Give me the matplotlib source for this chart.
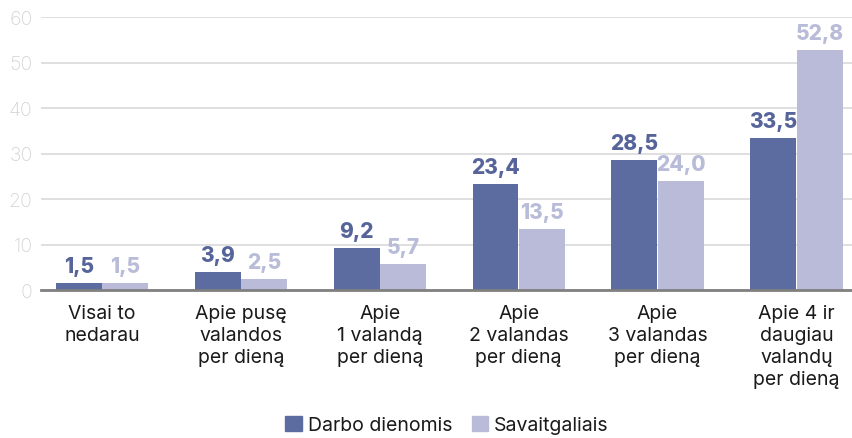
import matplotlib.pyplot as plt
import numpy as np
from matplotlib.patches import Patch

# データ
categories = ['Visai to\nnedarau', 'Apie pusę\nvalandos\nper dieną', 'Apie\n1 valandą\nper dieną',
              'Apie\n2 valandas\nper dieną', 'Apie\n3 valandas\nper dieną', 'Apie 4 ir\ndaugiau\nvalandų\nper dieną']
darbo = [1.5, 3.9, 9.2, 23.4, 28.5, 33.5]
savaitgaliais = [1.5, 2.5, 5.7, 13.5, 24.0, 52.8]
series_names = ['Darbo dienomis', 'Savaitgaliais']
yticks = [0, 10, 20, 30, 40, 50, 60]

dark = '#5d6ca0'
light = '#b9bbd9'

plt.rcParams['font.family'] = ['Inter', 'DejaVu Sans']

fig = plt.figure(figsize=(8.52, 4.39), dpi=100)
ax = fig.add_axes([41 / 852, 148 / 439, 811 / 852, 273 / 439])

x = np.arange(len(categories))
w = 0.33
b1 = ax.bar(x - w / 2 - 0.002, darbo, w, color=dark, zorder=3)
b2 = ax.bar(x + w / 2 + 0.002, savaitgaliais, w, color=light, zorder=3)

# 値ラベル
for bars, vals, col in [(b1, darbo, '#56649a'), (b2, savaitgaliais, '#b9bcd8')]:
    for r, v in zip(bars, vals):
        ax.annotate(f'{v:.1f}'.replace('.', ','), (r.get_x() + r.get_width() / 2, r.get_height()),
                    xytext=(0, 5), textcoords='offset points', ha='center', va='bottom',
                    fontsize=15, fontweight=800, color=col, zorder=4)

ax.set_xlim(-0.44, 5.40)
ax.set_ylim(0, 60)
ax.set_yticks(yticks)
ax.set_yticklabels([str(t) for t in yticks], fontsize=14, color='#d4d4d4', fontweight='light')
ax.set_xticks(x)
ax.set_xticklabels(categories, fontsize=14, color='#1a1a1a', linespacing=1.3)
ax.tick_params(axis='both', length=0)
ax.tick_params(axis='y', pad=6)
ax.tick_params(axis='x', pad=10)

ax.grid(axis='y', color='#dcdcdc', linewidth=1.3, zorder=0)
for s in ['top', 'right', 'left']:
    ax.spines[s].set_visible(False)
ax.spines['bottom'].set_color('#808080')
ax.spines['bottom'].set_linewidth(2)
ax.spines['bottom'].set_zorder(5)

handles = [Patch(color=dark), Patch(color=light)]
fig.legend(handles, series_names, loc='center', bbox_to_anchor=(447 / 852, 13 / 439), ncol=2,
           frameon=False, fontsize=14, handlelength=0.85, handleheight=0.85,
           handletextpad=0.3, columnspacing=1.0, labelcolor='#1a1a1a')

fig.savefig('out.png', dpi=100)
